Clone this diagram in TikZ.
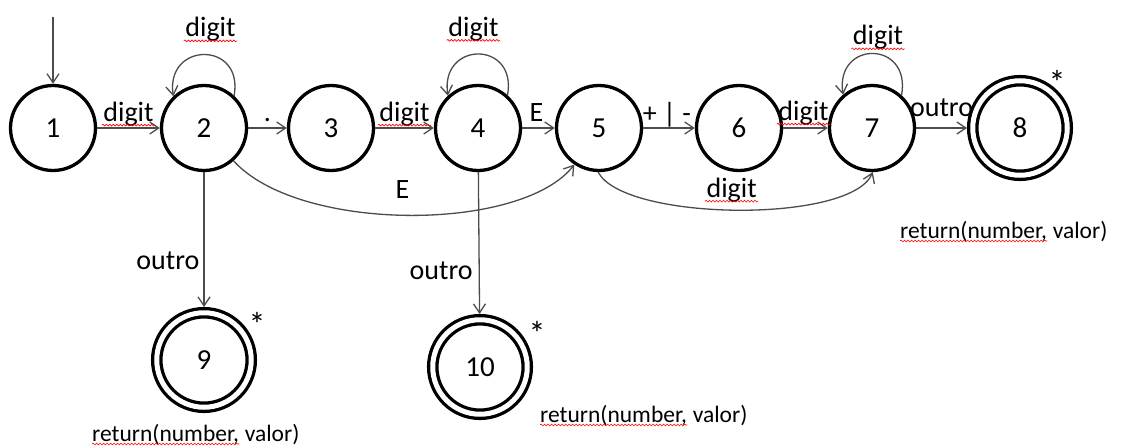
\documentclass[tikz,border=0pt]{standalone}
\usepackage{fontspec}
\setmainfont{Carlito}
\usetikzlibrary{arrows.meta,decorations.pathmorphing,calc}

\begin{document}
\begin{tikzpicture}[x=1pt,y=-1pt,
  state/.style={circle,draw,line width=3.3pt,minimum size=85pt,inner sep=0pt,
    font=\fontsize{29}{31}\selectfont},
  accept/.style={state,double,double distance=5pt,minimum size=94.5pt,outer sep=5.75pt},
  arc/.style={draw=black!70,line width=1.3pt,-{Straight Barb[length=9pt,width=12pt]}},
  lbl/.style={font=\fontsize{28}{30}\selectfont,inner sep=1pt,text height=0.72em,text depth=0.22em},
  ret/.style={font=\fontsize{23.5}{25}\selectfont,inner sep=0pt},
  squig/.style={draw=red,line width=0.6pt,decorate,
    decoration={snake,amplitude=0.9pt,segment length=3.5pt}},
  starmark/.style={font=\fontsize{34}{36}\selectfont,inner sep=0pt}
]
\useasboundingbox[fill=white] (0,0) rectangle (1137,447);

% states
\node[state] (n1) at (53,128) {1};
\node[state] (n2) at (204,128) {2};
\node[state] (n3) at (331,128) {3};
\node[state] (n4) at (478,128) {4};
\node[state] (n5) at (599,128) {5};
\node[state] (n6) at (739,128) {6};
\node[state] (n7) at (872,128) {7};
\node[accept] (n8) at (1020,128) {8};
\node[accept] (n9) at (204,360) {9};
\node[accept] (n10) at (480,367) {10};

% start arrow
\coordinate (start) at (53,17);
\draw[arc] (start) -- (n1);

% straight transitions
\draw[arc] (n1) -- node[lbl,above=3pt] (l12) {digit} (n2);
\draw[arc] (n2) -- node[lbl,above=3pt] (ldot) {.} (n3);
\draw[arc] (n3) -- node[lbl,above=3pt] (l34) {digit} (n4);
\draw[arc] (n4) -- node[lbl,above=3pt,xshift=-2pt] (l45) {E} (n5);
\draw[arc] (n5) -- node[lbl,above=2pt,xshift=-2pt] (l56) {+ | -} (n6);
\draw[arc] (n6) -- node[lbl,above=4pt,xshift=-2pt] (l67) {digit} (n7);
\draw[arc] (n7) -- node[lbl,above=8pt] (l78) {outro} (n8);
\draw[arc] (n2) -- node[lbl,left=3pt,pos=0.7] (l29) {outro} (n9);
\draw[arc] (n4) -- node[lbl,left=5pt,pos=0.74] (l410) {outro} (n10);

% self loops
\draw[arc] (n2.47) .. controls +(10,-55) and +(-8,-55) .. (n2.134)
  node[lbl,pos=0.5,above=14pt,xshift=6pt] (lp2) {digit};
\draw[arc] (n4.48) .. controls +(10,-55) and +(-8,-55) .. (n4.133)
  node[lbl,pos=0.5,above=14pt,xshift=-5pt] (lp4) {digit};
\draw[arc] (n7.48) .. controls +(10,-55) and +(-8,-55) .. (n7.131)
  node[lbl,pos=0.5,above=5pt,xshift=5pt] (lp7) {digit};

% curved transitions below the row
\draw[arc] (n2.-48) .. controls +(65,72) and +(-53,68) .. (n5.-124)
  node[lbl,pos=0.5,above=13pt,xshift=-6pt] (l25) {E};
\draw[arc] (n5.-91) .. controls +(25,49) and +(-22,52) .. (n7.-89)
  node[lbl,pos=0.5,above=9pt,xshift=-5pt] (l57) {digit};

% final-state markers
\node[starmark] (s8) at ($(n8)+(37,-46)$) {*};
\node[starmark] (s9) at ($(n9)+(53,-36)$) {*};
\node[starmark] (s10) at ($(n10)+(57,-34)$) {*};

% return actions
\node[ret,anchor=base west] (r8a) at (900,238) {return(number,};
\node[ret,anchor=base west] (r8b) at (r8a.base east) {\ valor)};
\node[ret,anchor=base west] (r9a) at (92,441) {return(number,};
\node[ret,anchor=base west] (r9b) at (r9a.base east) {\ valor)};
\node[ret,anchor=base west] (r10a) at (540,422) {return(number,};
\node[ret,anchor=base west] (r10b) at (r10a.base east) {\ valor)};

% spell-check underlines
\foreach \w in {l12,l34,l67,lp2,lp4,lp7,l57}
  \draw[squig] ([yshift=-4pt]\w.base west) -- ([yshift=-4pt]\w.base east);
\foreach \w in {r8a,r9a,r10a}
  \draw[squig] ([yshift=-3pt]\w.base west) -- ([yshift=-3pt]\w.base east);
\end{tikzpicture}
\end{document}
